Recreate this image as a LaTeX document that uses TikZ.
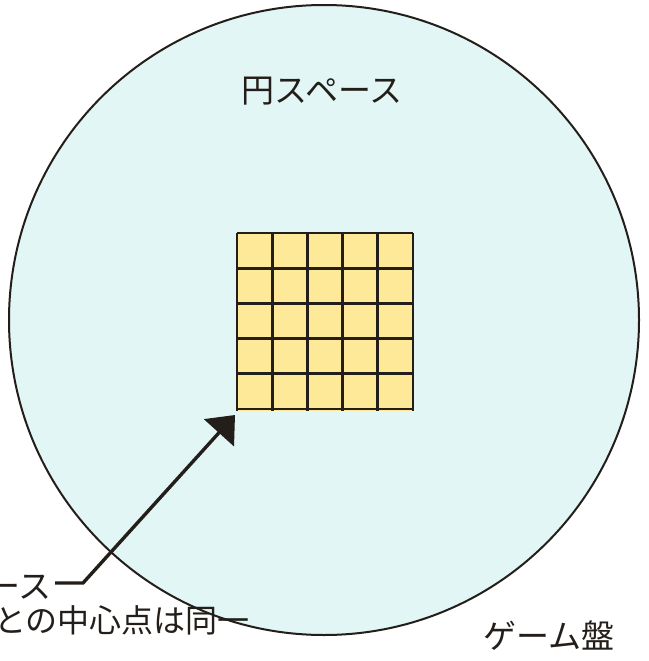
\documentclass[tikz,border=0pt]{standalone}
\usepackage{fontspec}
\newfontfamily\jpfont{Noto Sans CJK JP}
\usetikzlibrary{arrows.meta}
\definecolor{spacefill}{RGB}{226,246,246}
\definecolor{cellfill}{RGB}{253,233,152}
\definecolor{inkline}{RGB}{35,30,25}
\begin{document}
\begin{tikzpicture}[x=1pt,y=-1pt,
    lbl/.style={font=\jpfont\fontsize{33}{33}\selectfont, text=inkline, inner sep=0pt},
    gridline/.style={inkline, line width=2.8pt}]
    \useasboundingbox (0,0) rectangle (648,661);
    % Circle space
    \draw [inkline, line width=2pt, fill=spacefill] (324,320) circle (315);
    \node [lbl] (circlabel) at (322,91) {円スペース};
    % Game board (5 x 5)
    \fill [cellfill] (237,233) rectangle (413,411);
    \foreach \i in {0,...,5} {
      \draw [gridline] (237+35.2*\i,233) -- (237+35.2*\i,411);
      \draw [gridline] (237,233+35.2*\i) -- (413,233+35.2*\i);
    }
    \node [lbl] (boardlabel) at (549,636) {ゲーム盤};
    % Labels cut at the left edge
    \node [lbl, anchor=east] (sqlabel) at (52,587) {ース};
    \node [lbl, anchor=west, font=\jpfont\fontsize{32}{32}\selectfont] (centrelabel) at (-6,620) {との中心点は同一};
    % Arrow to the board
    \coordinate (bend) at (83,583);
    \coordinate (tip) at (235,415);
    \draw [inkline, line width=3.4pt, -{Triangle[length=24pt,width=40pt]}]
      ([xshift=3pt]sqlabel.east |- bend) -- (bend) -- (tip);
\end{tikzpicture}
\end{document}
